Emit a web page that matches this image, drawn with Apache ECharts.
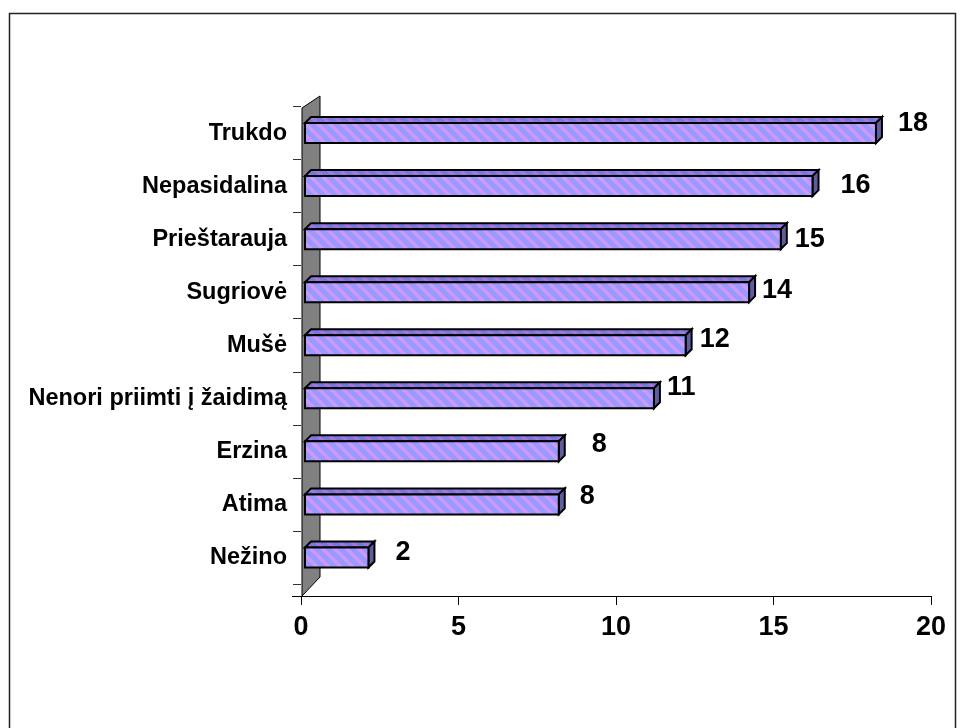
<!DOCTYPE html>
<html>
<head>
<meta charset="utf-8">
<script src="https://cdn.jsdelivr.net/npm/echarts@6/dist/echarts.min.js"></script>
<style>
  html, body { margin: 0; padding: 0; background: #fff; }
  #main { width: 961px; height: 728px; }
</style>
</head>
<body>
<div id="main"></div>
<script>
// categories top to bottom
const categories = ['Trukdo', 'Nepasidalina', 'Prieštarauja', 'Sugriovė', 'Mušė',
  'Nenori priimti į žaidimą', 'Erzina', 'Atima', 'Nežino']
const counts = [18, 16, 15, 14, 12, 11, 8, 8, 2]
const xTicks = [0, 5, 10, 15, 20]

// hand placed value labels (gap from bar side, vertical nudge)
const labelShift = [[16, -9], [22, -1], [8, 0], [7, -2], [8, -6], [7, -11], [27, -7], [15, -8], [21, -5]]

const font = '"Liberation Sans", Arial, sans-serif'

function stripes(base, stripe) {
  const n = 12
  const c = document.createElement('canvas')
  c.width = n
  c.height = n
  const ctx = c.getContext('2d')
  ctx.fillStyle = base
  ctx.fillRect(0, 0, n, n)
  ctx.fillStyle = stripe
  for (let y = 0; y < n; y++) {
    for (let x = 0; x < n; x++) {
      if ((((x - y) % n) + n) % n < 5) ctx.fillRect(x, y, 1, 1)
    }
  }
  return c
}
const frontFill = { image: stripes('#9999FF', '#CC99FF'), repeat: 'repeat' }
const topFill = { image: stripes('#7777DD', '#A477DD'), repeat: 'repeat' }

const chart = echarts.init(document.getElementById('main'))

chart.setOption({
  animation: false,
  grid: [
    { left: 301, right: 30, top: 106.5, bottom: 144 },
    { left: 305, right: 21.6, top: 106.5, bottom: 144 },
  ],
  xAxis: [
    {
      gridIndex: 0,
      type: 'value',
      min: xTicks[0],
      max: xTicks[xTicks.length - 1],
      interval: 5,
      offset: 12,
      splitLine: { show: false },
      axisLine: { show: true, lineStyle: { color: '#000', width: 1 } },
      axisTick: { show: true, length: 9, lineStyle: { color: '#000' } },
      axisLabel: {
        margin: 18,
        color: '#000',
        fontFamily: font,
        fontWeight: 'bold',
        fontSize: 27,
      },
    },
    { gridIndex: 1, type: 'value', min: 0, max: 20, show: false },
  ],
  yAxis: [
    {
      gridIndex: 0,
      type: 'category',
      inverse: true,
      data: categories,
      axisLine: { show: false },
      axisTick: { show: true, length: 8, lineStyle: { color: '#333' } },
      axisLabel: {
        margin: 14,
        color: '#000',
        fontFamily: font,
        fontWeight: 'bold',
        fontSize: 23.5,
      },
    },
    { gridIndex: 1, type: 'category', inverse: true, data: categories, show: false },
  ],
  graphic: [
    {
      type: 'rect',
      z: -1,
      shape: { x: 9.5, y: 13.5, width: 946, height: 740 },
      style: { fill: 'none', stroke: '#222', lineWidth: 1.5 },
    },
    {
      type: 'polygon',
      z: 0,
      shape: { points: [[302, 108], [320, 96], [320, 577], [302, 596]] },
      style: { fill: '#808080', stroke: '#000', lineWidth: 1 },
    },
    {
      type: 'line',
      z: 0,
      shape: { x1: 292, y1: 596.5, x2: 302, y2: 596.5 },
      style: { stroke: '#000', lineWidth: 1 },
    },
  ],
  series: [
    {
      type: 'custom',
      xAxisIndex: 1,
      yAxisIndex: 1,
      z: 5,
      data: counts.map((v, i) => [v, i]),
      renderItem(params, api) {
        const i = api.value(1)
        const v = api.value(0)
        const p0 = api.coord([0, i])
        const p1 = api.coord([v, i])
        const h = 20
        const dx = 6
        const dy = 6
        const x0 = p0[0]
        const x1 = p1[0]
        const yt = p1[1] - h / 2
        const yb = p1[1] + h / 2
        const shift = labelShift[params.dataIndex]
        return {
          type: 'group',
          children: [
            {
              type: 'polygon',
              shape: { points: [[x0, yt], [x0 + dx, yt - dy], [x1 + dx, yt - dy], [x1, yt]] },
              style: { fill: topFill, stroke: '#000', lineWidth: 2 },
            },
            {
              type: 'polygon',
              shape: { points: [[x1, yt], [x1 + dx, yt - dy], [x1 + dx, yb - dy], [x1, yb]] },
              style: { fill: '#5E5E9E', stroke: '#000', lineWidth: 2 },
            },
            {
              type: 'rect',
              shape: { x: x0, y: yt, width: x1 - x0, height: h },
              style: { fill: frontFill, stroke: '#000', lineWidth: 2 },
            },
            {
              type: 'text',
              style: {
                text: String(v),
                x: x1 + dx + shift[0],
                y: p1[1] + shift[1],
                align: 'left',
                verticalAlign: 'middle',
                fill: '#000',
                font: 'bold 27px ' + font,
              },
            },
          ],
        }
      },
    },
  ],
})
</script>
</body>
</html>
